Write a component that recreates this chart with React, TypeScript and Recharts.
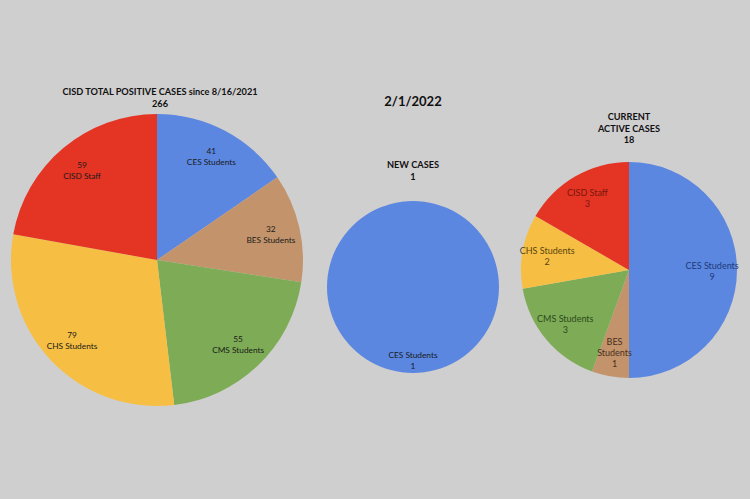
import React from 'react';
import { PieChart, Pie, Cell } from 'recharts';

// slice order clockwise from 12 o'clock
const totalNames = ['CES Students', 'BES Students', 'CMS Students', 'CHS Students', 'CISD Staff'];
const totalValues = [41, 32, 55, 79, 59];

const newNames = ['CES Students'];
const newValues = [1];

const activeNames = ['CES Students', 'BES Students', 'CMS Students', 'CHS Students', 'CISD Staff'];
const activeValues = [9, 1, 3, 2, 3];

const COLORS: Record<string, string> = {
  'CES Students': '#5b87e1',
  'BES Students': '#c3946c',
  'CMS Students': '#7eac56',
  'CHS Students': '#f6bf43',
  'CISD Staff': '#e43424',
};

const DARK: Record<string, string> = {
  'CES Students': '#1e3a78',
  'BES Students': '#4a3020',
  'CMS Students': '#2c4a1c',
  'CHS Students': '#5a4410',
  'CISD Staff': '#7a160c',
};

const totalData = totalNames.map((name, i) => ({ name, value: totalValues[i] }));
const newData = newNames.map((name, i) => ({ name, value: newValues[i] }));
const activeData = activeNames.map((name, i) => ({ name, value: activeValues[i] }));

const FONT = 'Lato, "Open Sans", sans-serif';
const RAD = Math.PI / 180;

const makeLabel = (factor: number, valueFirst: boolean, tinted: boolean) => (props: any) => {
  const { cx, cy, midAngle, outerRadius, name, value, percent } = props;
  const r = outerRadius * factor;
  const x = cx + r * Math.cos(-midAngle * RAD);
  const y = cy + r * Math.sin(-midAngle * RAD);
  let nameLines = [name];
  if (percent < 0.08) nameLines = name.split(' ');
  const lines = valueFirst ? [String(value), ...nameLines] : [...nameLines, String(value)];
  const lh = 11;
  const y0 = y - ((lines.length - 1) * lh) / 2;
  return (
    <text
      x={x}
      y={y0}
      textAnchor="middle"
      dominantBaseline="central"
      fontSize={tinted ? 9 : 8.3}
      fontFamily={FONT}
      fill={tinted ? DARK[name] : '#1a1a1a'}
    >
      {lines.map((l, i) => (
        <tspan key={i} x={x} y={y0 + i * lh}>
          {l}
        </tspan>
      ))}
    </text>
  );
};

const titleStyle: React.CSSProperties = {
  position: 'absolute',
  transform: 'translateX(-50%)',
  textAlign: 'center',
  fontFamily: FONT,
  fontWeight: 700,
  fontSize: 9.2,
  lineHeight: '11.5px',
  color: '#111',
  whiteSpace: 'nowrap',
};

const App: React.FC = () => {
  return (
    <div style={{ position: 'absolute', left: 0, top: 0, width: 750, height: 499, background: '#d0cfcf' }}>
      <PieChart width={750} height={499} margin={{ top: 0, right: 0, bottom: 0, left: 0 }}>
        <Pie
          data={totalData}
          dataKey="value"
          nameKey="name"
          cx={157}
          cy={260}
          outerRadius={146}
          startAngle={90}
          endAngle={-270}
          stroke="none"
          labelLine={false}
          label={makeLabel(0.8, true, false)}
          isAnimationActive={false}
        >
          {totalData.map((d) => (
            <Cell key={d.name} fill={COLORS[d.name]} />
          ))}
        </Pie>
        <Pie
          data={newData}
          dataKey="value"
          nameKey="name"
          cx={413}
          cy={287}
          outerRadius={86}
          startAngle={90}
          endAngle={-270}
          stroke="none"
          labelLine={false}
          label={makeLabel(0.86, false, false)}
          isAnimationActive={false}
        >
          {newData.map((d) => (
            <Cell key={d.name} fill={COLORS[d.name]} />
          ))}
        </Pie>
        <Pie
          data={activeData}
          dataKey="value"
          nameKey="name"
          cx={629}
          cy={270}
          outerRadius={108}
          startAngle={90}
          endAngle={-270}
          stroke="none"
          labelLine={false}
          label={makeLabel(0.77, false, true)}
          isAnimationActive={false}
        >
          {activeData.map((d) => (
            <Cell key={d.name} fill={COLORS[d.name]} />
          ))}
        </Pie>
      </PieChart>

      <div style={{ ...titleStyle, left: 160, top: 86 }}>
        CISD TOTAL POSITIVE CASES since 8/16/2021
        <br />
        266
      </div>
      <div style={{ ...titleStyle, left: 413, top: 94, fontSize: 13, lineHeight: '15px' }}>2/1/2022</div>
      <div style={{ ...titleStyle, left: 413, top: 159 }}>
        NEW CASES
        <br />1
      </div>
      <div style={{ ...titleStyle, left: 629, top: 111 }}>
        CURRENT
        <br />
        ACTIVE CASES
        <br />
        18
      </div>
    </div>
  );
};

export default App;
